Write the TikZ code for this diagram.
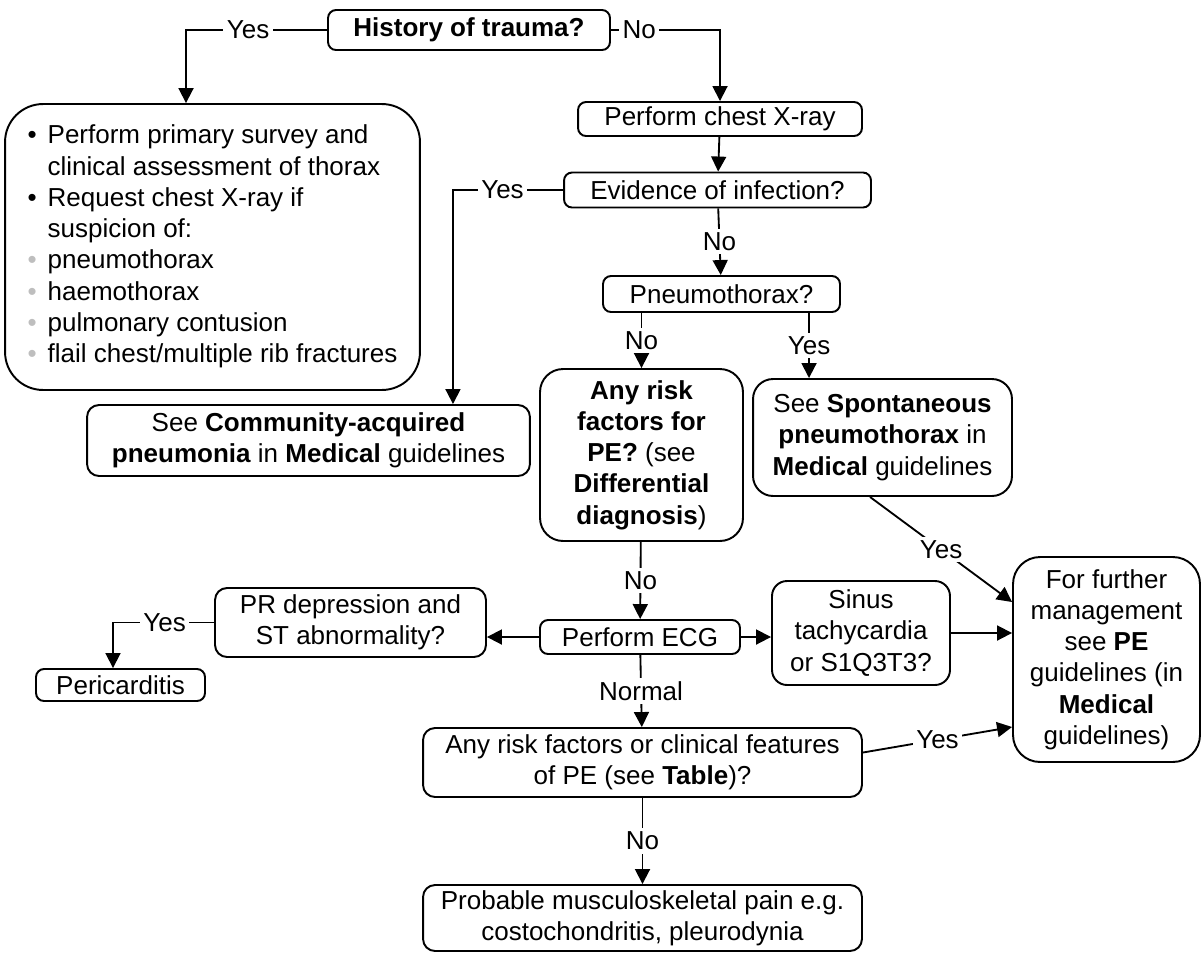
\documentclass[tikz,border=0pt]{standalone}
\usepackage{fontspec}
\setmainfont{Liberation Sans}
\usepackage{xcolor}
\usetikzlibrary{arrows.meta}
\definecolor{dotgrey}{RGB}{190, 190, 190}
\tikzstyle{box} = [rectangle, draw, rounded corners=0.16cm, align=center, inner sep=0pt, line width=1.1pt]
\tikzstyle{arrow} = [-{Triangle[length=0.3cm, width=0.3cm]}, line width=1.05pt]
\tikzstyle{lab} = [fill=white, inner sep=2pt]

\begin{document}
\begin{tikzpicture}[x=0.02cm, y=-0.02cm, font=\fontsize{14.8}{17.8}\selectfont]
    \useasboundingbox (0,0) rectangle (1203,954);

    % Top question
    \node[box, minimum width=5.64cm, minimum height=0.8cm] (trauma) at (469,30) {\textbf{History of trauma?}};

    % Trauma branch
    \node[box, rounded corners=0.76cm, minimum width=8.3cm, minimum height=5.72cm] (primary) at (212.5,247) {%
        \begin{tabular}{@{}l@{\hspace{0.22cm}}l@{}}
        \textbullet & Perform primary survey and\\
                    & clinical assessment of thorax\\
        \textbullet & Request chest X-ray if\\
                    & suspicion of:\\
        {\color{dotgrey}\textbullet} & pneumothorax\\
        {\color{dotgrey}\textbullet} & haemothorax\\
        {\color{dotgrey}\textbullet} & pulmonary contusion\\
        {\color{dotgrey}\textbullet} & flail chest/multiple rib fractures
        \end{tabular}};

    % No trauma
    \node[box, minimum width=5.68cm, minimum height=0.68cm] (xray) at (720,119) {Perform chest X-ray};
    \node[box, minimum width=6.14cm, minimum height=0.7cm] (infection) at (717.5,190) {Evidence of infection?};
    \node[box, rounded corners=0.24cm, minimum width=8.86cm, minimum height=1.42cm] (cap) at (308.5,440.5)
        {See \textbf{Community-acquired}\\\textbf{pneumonia} in \textbf{Medical} guidelines};
    \node[box, minimum width=4.74cm, minimum height=0.72cm] (pneumo) at (721.5,294) {Pneumothorax?};
    \node[box, rounded corners=0.46cm, minimum width=4.06cm, minimum height=3.44cm] (riskpe) at (641.5,455)
        {\textbf{Any risk}\\\textbf{factors for}\\\textbf{PE?} (see\\\textbf{Differential}\\\textbf{diagnosis})};
    \node[box, rounded corners=0.4cm, minimum width=5.18cm, minimum height=2.34cm] (spont) at (882.5,437.5)
        {See \textbf{Spontaneous}\\\textbf{pneumothorax} in\\\textbf{Medical} guidelines};
    \coordinate (spontin) at ([xshift=-1.47cm]spont.north);

    % ECG and its outcomes
    \node[box, minimum width=4.0cm, minimum height=0.68cm] (ecg) at (640,637) {Perform ECG};
    \node[box, rounded corners=0.24cm, minimum width=5.42cm, minimum height=1.38cm] (prst) at (350.5,622.5) {PR depression and\\ST abnormality?};
    \node[box, minimum width=3.38cm, minimum height=0.64cm] (peri) at (120.5,685) {Pericarditis};
    \node[box, rounded corners=0.3cm, minimum width=3.56cm, minimum height=2.08cm] (sinus) at (861,633) {Sinus\\tachycardia\\or S1Q3T3?};
    \node[box, rounded corners=0.54cm, minimum width=3.74cm, minimum height=4.1cm] (pe) at (1106.5,659.5)
        {For further\\management\\see \textbf{PE}\\guidelines (in\\\textbf{Medical}\\guidelines)};
    \node[box, rounded corners=0.24cm, minimum width=8.78cm, minimum height=1.38cm] (clinical) at (642.5,762.5)
        {Any risk factors or clinical features\\of PE (see \textbf{Table})?};
    \node[box, rounded corners=0.24cm, minimum width=8.78cm, minimum height=1.32cm] (msk) at (642.5,918)
        {Probable musculoskeletal pain e.g.\\costochondritis, pleurodynia};

    % Connectors
    \draw[arrow] (trauma.west) -| ([xshift=-0.53cm]primary.north) node[lab, pos=0.28] {Yes};
    \draw[arrow] (trauma.east) -| (xray.north) node[lab, pos=0.13] {No};
    \draw[arrow] (xray) -- (infection);
    \draw[arrow] (infection.west) -| ([xshift=2.89cm]cap.north) node[lab, pos=0.275] {Yes};
    \draw[arrow] (infection) -- (pneumo) node[lab, midway] {No};
    \draw[arrow] (pneumo.south -| riskpe.north) -- (riskpe.north) node[lab, midway] {No};
    \draw[arrow] (pneumo.south -| spontin) -- (spontin) node[lab, midway] {Yes};
    \draw[arrow] ([xshift=-0.25cm]spont.south) -- ([yshift=1.15cm]pe.west) node[lab, midway] {Yes};
    \draw[arrow] (riskpe) -- (ecg) node[lab, midway] {No};
    \draw[arrow] (ecg.west) -- (ecg.west -| prst.east);
    \draw[arrow] (prst.west) -| ([xshift=-0.15cm]peri.north) node[lab, pos=0.245] {Yes};
    \draw[arrow] (ecg.east) -- (ecg.east -| sinus.west);
    \draw[arrow] (sinus.east) -- (sinus.east -| pe.west);
    \draw[arrow] (ecg) -- (clinical) node[lab, midway] {Normal};
    \draw[arrow] ([yshift=0.2cm]clinical.east) -- ([yshift=-1.35cm]pe.west) node[lab, midway] {Yes};
    \draw[arrow] (clinical) -- (msk) node[lab, midway] {No};
\end{tikzpicture}
\end{document}
